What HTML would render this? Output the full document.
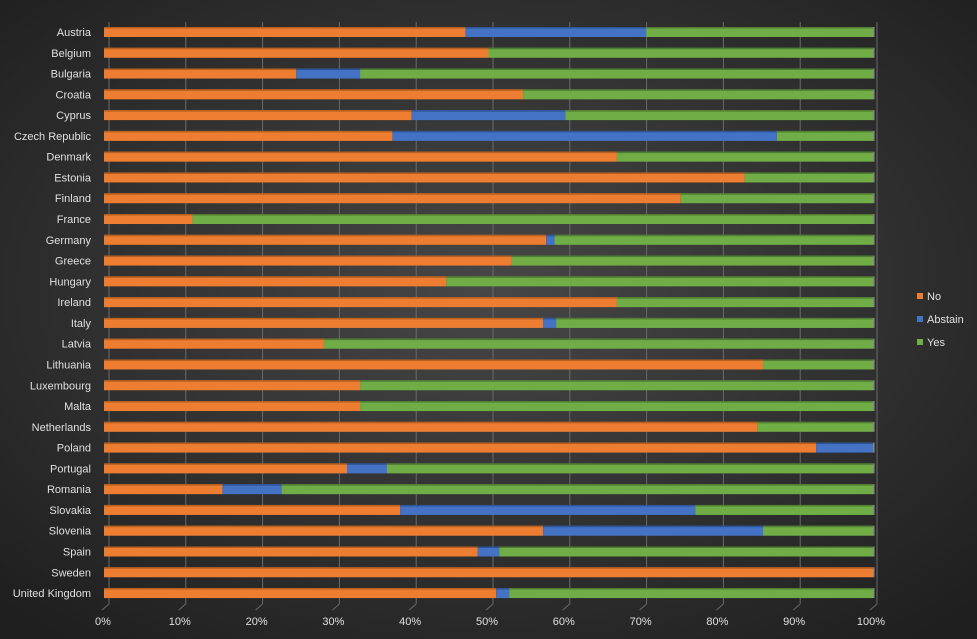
<!DOCTYPE html>
<html><head><meta charset="utf-8"><style>
html,body{margin:0;padding:0;width:977px;height:639px;overflow:hidden;background:#2a2a2a}
svg{display:block}
text{font-family:"Liberation Sans",sans-serif;font-size:11px;fill:#e0e0e0}
</style></head><body>
<svg width="977" height="639" xmlns="http://www.w3.org/2000/svg">
<defs><radialGradient id="bg" cx="50%" cy="45%" r="70%">
<stop offset="0" stop-color="#474747"/><stop offset="1" stop-color="#1f1f1f"/></radialGradient></defs>
<rect width="977" height="639" fill="url(#bg)"/>
<g id="g"></g>
</svg>
<script>
const data=[["Austria",47,70.5],["Belgium",50,50],["Bulgaria",25,33.3],["Croatia",54.5,54.5],["Cyprus",40,60],["Czech Republic",37.5,87.5],["Denmark",66.7,66.7],["Estonia",83.3,83.3],["Finland",75,75],["France",11.5,11.5],["Germany",57.5,58.6],["Greece",53,53],["Hungary",44.5,44.5],["Ireland",66.7,66.7],["Italy",57.1,58.8],["Latvia",28.6,28.6],["Lithuania",85.7,85.7],["Luxembourg",33.3,33.3],["Malta",33.3,33.3],["Netherlands",85,85],["Poland",92.6,100],["Portugal",31.6,36.8],["Romania",15.4,23.1],["Slovakia",38.5,76.9],["Slovenia",57.1,85.7],["Spain",48.6,51.4],["Sweden",100,100],["United Kingdom",51,52.7]];
let s="";
const X=p=>104+p*7.69;
for(let i=0;i<=10;i++){const x=109+i*7.68*10;s+=`<line x1="${x}" y1="22" x2="${x}" y2="604" stroke="#6a6a6a" stroke-width="1"/><line x1="${x}" y1="604" x2="${x-7}" y2="610" stroke="#6a6a6a"/>`;
s+=`<text x="${x-6}" y="625" text-anchor="middle">${i*10}%</text>`;}
data.forEach((d,i)=>{const c=32+i*20.78;const t=c-5;
const segs=[[0,d[1],"#ed7d31","#b8601f"],[d[1],d[2],"#4472c4","#2f5597"],[d[2],100,"#70ad47","#507e32"]];
segs.forEach(g=>{if(g[1]-g[0]>0.01){const x1=X(g[0]),x2=X(g[1]);
s+=`<rect x="${x1}" y="${t}" width="${x2-x1}" height="10" fill="${g[2]}"/><rect x="${x1}" y="${t}" width="${x2-x1}" height="1.5" fill="${g[3]}"/>`;}});
s+=`<rect x="${X(100)}" y="${t}" width="1.5" height="10" fill="#888"/>`;
s+=`<text x="91" y="${c+4}" text-anchor="end">${d[0]}</text>`;});
[["No","#ed7d31",296],["Abstain","#4472c4",319],["Yes","#70ad47",342]].forEach(l=>{s+=`<rect x="917" y="${l[2]-3}" width="6" height="6" fill="${l[1]}"/><text x="927" y="${l[2]+4}">${l[0]}</text>`;});
document.getElementById("g").innerHTML=s;
</script>
</body></html>
